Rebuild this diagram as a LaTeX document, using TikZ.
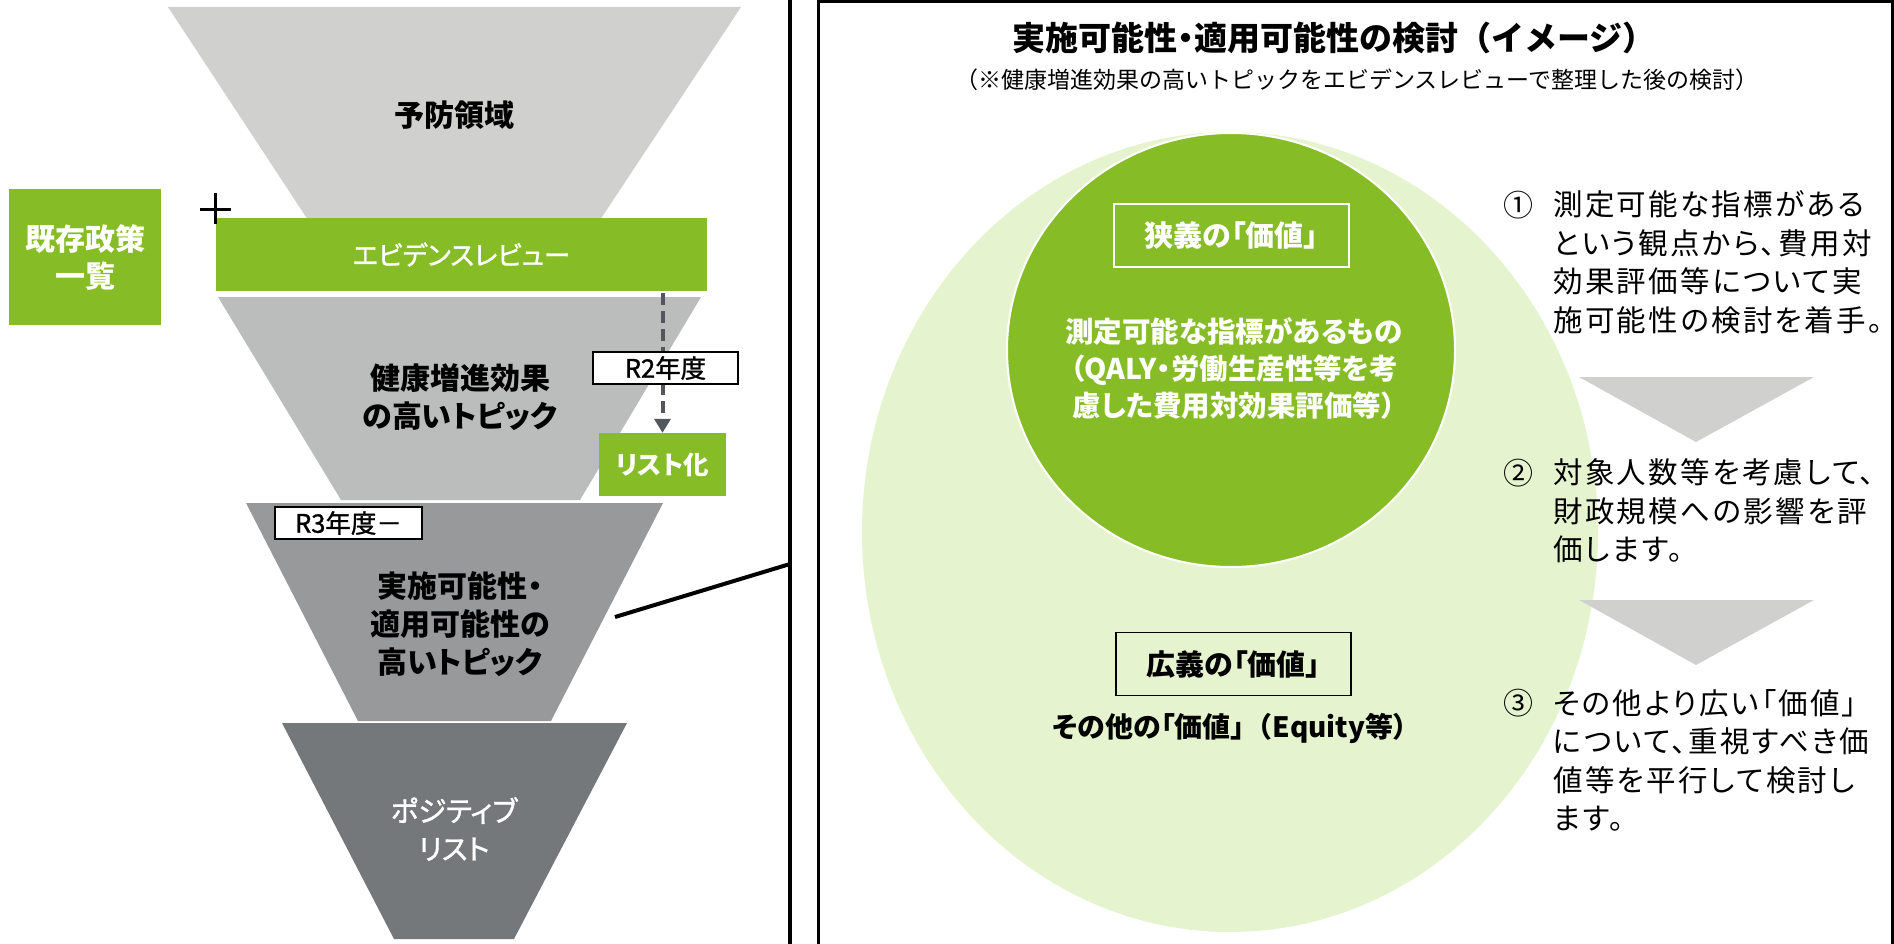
\documentclass[tikz,border=0pt]{standalone}
\usepackage{fontspec}
\setmainfont{Noto Sans CJK JP}[RawFeature=+palt]
\newfontfamily\fullfont{Noto Sans CJK JP}
\newfontfamily\numfont{Noto Sans CJK JP}[RawFeature=+palt, LetterSpace=8]
\newfontfamily\medfont{Noto Sans CJK JP}[RawFeature=+palt, FakeBold=1.2]
\usetikzlibrary{arrows.meta}
\definecolor{green}{HTML}{86BC25}
\definecolor{lightgreen}{HTML}{E5F4CF}
\definecolor{fa}{HTML}{D0D0CE}
\definecolor{fb}{HTML}{BBBCBC}
\definecolor{fc}{HTML}{98999B}
\definecolor{fd}{HTML}{75787B}
\definecolor{arrowgray}{HTML}{53565A}
\definecolor{trigray}{HTML}{D0D0CE}
\tikzset{
  greenbox/.style={fill=green, text=white, inner sep=0pt},
  yearbox/.style={draw=black, line width=1.5pt, fill=white, inner sep=0pt, minimum height=32pt,
    font=\medfont\fontsize{25.5}{28}\selectfont},
  funtext/.style={align=center, inner sep=0pt, font=\fontsize{30}{38}\selectfont\bfseries},
  valbox/.style={line width=1.5pt, inner sep=0pt, minimum width=235pt, minimum height=63pt,
    font=\fontsize{29}{34}\selectfont\bfseries},
  numtext/.style={align=left, anchor=west, inner sep=0pt, font=\numfont\fontsize{29.5}{38.5}\selectfont},
  numlabel/.style={inner sep=0pt, font=\fullfont\fontsize{30}{32}\selectfont},
  tri/.style={fill=trigray},
}
\begin{document}
\begin{tikzpicture}[x=1pt,y=-1pt]
\useasboundingbox (0,0) rectangle (1894,944);
\fill[white] (0,0) rectangle (1894,944);

% ---------- left funnel ----------
\fill[fa] (168,7) -- (741,7) -- (600,220) -- (308,220) -- cycle;
\fill[fb] (218,297) -- (701,297) -- (580,500) -- (341,500) -- cycle;
\fill[fc] (246,503) -- (663,503) -- (551,721) -- (358,721) -- cycle;
\fill[fd] (282,723) -- (627,723) -- (514,939) -- (394,939) -- cycle;

\node[funtext] (yobo) at (454,115) {予防領域};
\node[greenbox, minimum width=491pt, minimum height=73pt, font=\medfont\fontsize{26.5}{32}\selectfont] (ebr) at (461.5,254.5) {エビデンスレビュー};
\node[greenbox, minimum width=152pt, minimum height=136pt, align=center, font=\fontsize{30}{37}\selectfont\bfseries] (kison) at (85,257) {既存政策\\一覧};
\draw[line width=3pt] (200,209) -- (231,209) (215.5,193) -- (215.5,224);

\node[funtext] (kenko) at (460,397.5) {健康増進効果\\の高いトピック};
\node[greenbox, minimum width=127pt, minimum height=63pt, font=\fontsize{25.5}{32}\selectfont\bfseries] (list) at (662.5,464.5) {リスト化};
\draw[arrowgray, line width=4pt, dash pattern=on 12pt off 6pt, -{Triangle[width=16pt,length=14pt]}]
  (ebr.south -| list.north) ++(0,2) -- (list.north);
\node[yearbox, minimum width=145pt] (r2) at (665.5,368) {R2年度};

\node[yearbox, minimum width=147pt] (r3) at (348.5,523) {R3年度－};
\node[funtext] (jisshi) at (460,624) {実施可能性・\\適用可能性の\\高いトピック};
\node[funtext, text=white, font=\medfont\fontsize{28.5}{38}\selectfont] (posi) at (454,829) {ポジティブ\\リスト};

% ---------- connector to right panel ----------
\coordinate (lstart) at (615,617);
\coordinate (lend) at (790,564);
\draw[line width=4.5pt] (790,-5) -- (790,950);
\draw[line width=4pt] (lstart) -- (lend);

% ---------- right panel ----------
\draw[line width=3pt] (818,2) rectangle (1892,960);

\node[inner sep=0pt, font=\fullfont\fontsize{33}{36}\selectfont\bfseries] (title) at (1334,38) {実施可能性{\rmfamily ・}適用可能性の検討（イメージ）};
\node[inner sep=0pt, font=\fullfont\fontsize{23}{28}\selectfont] (sub) at (1357,80) {（※健康増進効果の高いトピックをエビデンスレビューで整理した後の検討）};

\fill[lightgreen] (1230,532) ellipse [x radius=368, y radius=400];
\filldraw[fill=green, draw=white, line width=2pt] (1231,350) ellipse [x radius=224, y radius=217];

\node[valbox, draw=white, text=white] (narrow) at (1231.5,235.5) {狭義の「価値」};
\node[align=center, inner sep=0pt, text=white, font=\fontsize{28.5}{37}\selectfont\bfseries] (narrowtxt) at (1234,368.5)
  {測定可能な指標があるもの\\（QALY・労働生産性等を考\\慮した費用対効果評価等）};

\node[valbox, draw=black] (broad) at (1233.5,664) {広義の「価値」};
\node[inner sep=0pt, font=\fontsize{28}{32}\selectfont\bfseries] (broadtxt) at (1230,728) {その他の「価値」{\fullfont （}Equity等）};

\fill[tri] (1579,377) -- (1814,377) -- (1696,442) -- cycle;
\fill[tri] (1579,600) -- (1814,600) -- (1696,665) -- cycle;

\node[numlabel] (n1) at (1518,205) {①};
\node[numtext] (t1) at (1553,262.5) {測定可能な指標がある\\という観点から、費用対\\効果評価等について実\\施可能性の検討を着手。};
\node[numlabel] (n2) at (1518,473) {②};
\node[numtext] (t2) at (1553,511) {対象人数等を考慮して、\\財政規模への影響を評\\価します。};
\node[numlabel] (n3) at (1518,703) {③};
\node[numtext] (t3) at (1553,760.5) {その他より広い「価値」\\について、重視すべき価\\値等を平行して検討し\\ます。};
\end{tikzpicture}
\end{document}
